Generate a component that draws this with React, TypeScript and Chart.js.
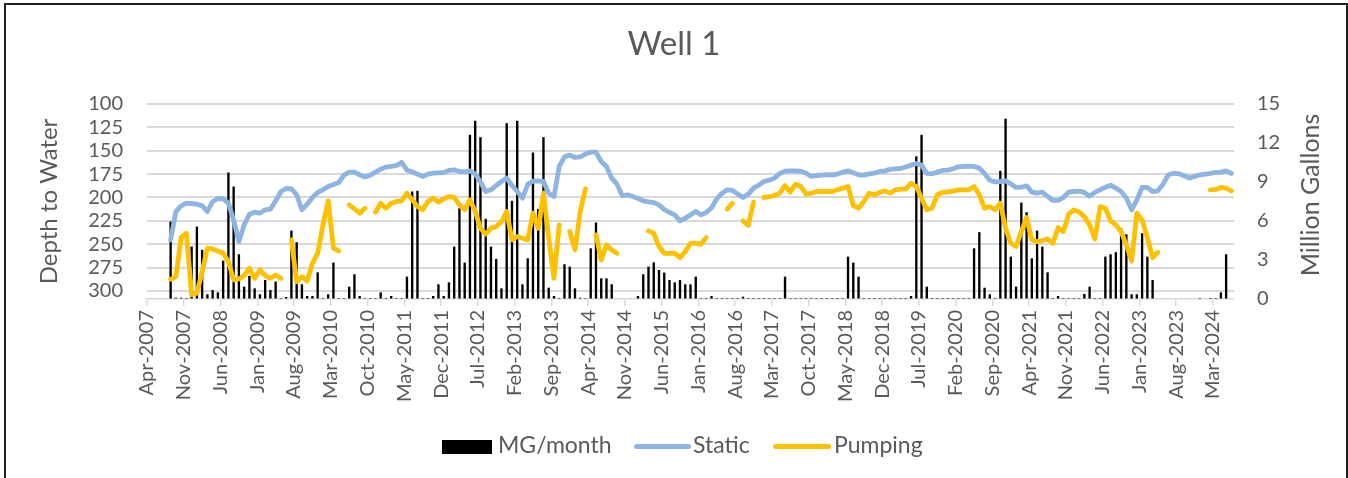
import React, { useEffect, useRef } from 'react';
import { Chart, registerables } from 'chart.js';

Chart.register(...registerables);

// ---- categories: one per month, Apr-2007 .. Jun-2024 ----
const START_YEAR = 2007;
const START_MONTH = 3; // April (0-based)
const MONTH_COUNT = 207;
const MONTH_NAMES = ['Jan', 'Feb', 'Mar', 'Apr', 'May', 'Jun', 'Jul', 'Aug', 'Sep', 'Oct', 'Nov', 'Dec'];
const months: string[] = Array.from({ length: MONTH_COUNT }, (_, i) => {
  const m = START_MONTH + i;
  return `${MONTH_NAMES[m % 12]}-${START_YEAR + Math.floor(m / 12)}`;
});
const LABEL_EVERY = 7; // an x label every 7 months

// ---- axis ticks ----
const depthTicks = [100, 125, 150, 175, 200, 225, 250, 275, 300];
const DEPTH_MIN = 100;
const DEPTH_MAX = 308.6;
const mgTicks = [0, 3, 6, 9, 12, 15];

// ---- series (index 0 = Apr-2007) ----
const staticDepth: (number | null)[] = [
  null, null, null, null, 245.4, 215, 209, 206.1, 206.5, 207.2, 209, 215,
  204.3, 201.1, 201.5, 206.1, 224, 247.2, 229.3, 217.9, 215.7, 216.8, 213.2, 212.5,
  203.6, 193.6, 190.4, 190.7, 197.1, 213.2, 207.2, 200, 194.6, 191.8, 188.2, 186.2,
  184, 176.1, 172.9, 172.9, 175.7, 178.2, 176.1, 172.9, 169.7, 167.5, 166.8, 165.8,
  162.5, 170.8, 172.5, 175, 177.5, 175, 174, 173.6, 173.3, 171.1, 170.4, 172.2,
  172.5, 171.5, 174.7, 183.6, 193.6, 191.8, 187.2, 182.9, 179.3, 187.2, 193.6, 200.7,
  186, 182.5, 182.2, 182.9, 195.4, 199, 166.8, 156.5, 154.7, 157.2, 156.5, 153.6,
  151.5, 151.5, 161.5, 166.8, 179.3, 185.7, 198.2, 197.2, 199, 201.1, 203.6, 204.7,
  205.4, 207.9, 212.9, 216.1, 218.6, 225, 222.2, 218.6, 215, 218.6, 216.1, 211,
  201.5, 195.4, 191.8, 192.5, 196.4, 200, 196.4, 190, 186.8, 182.9, 181.5, 179.3,
  174.3, 171.8, 171.5, 171.5, 171.8, 174, 177.5, 176.5, 176.1, 175.7, 175.7, 175,
  172.9, 171.5, 173.6, 175.7, 176.1, 174.7, 174, 172.2, 171.5, 170, 169.3, 169,
  167.4, 165.4, 163.6, 165.4, 174.3, 174.7, 172.9, 171.1, 170.8, 169.3, 167.2, 166.8,
  166.8, 166.8, 168.6, 174.3, 181.5, 183.3, 182.9, 182.2, 185.4, 189.3, 189, 187.5,
  194.3, 195.4, 194.3, 198.9, 203.2, 203.2, 200, 194.3, 193.6, 193.2, 194.6, 198.6,
  194.5, 191.8, 189, 186.8, 190, 193.6, 200.7, 213.2, 202.5, 189.3, 189.3, 193.6,
  192.9, 185.7, 175.7, 174, 174.7, 176.8, 179.3, 177.5, 175.7, 175, 174.3, 173.2,
  172.9, 171.5, 174.3,
];

const pumpingDepth: (number | null)[] = [
  null, null, null, null, 287.5, 284.7, 242.9, 238.2, 304, 302.5, 279.3, 254.3,
  255, 257.2, 259.7, 268.6, 288.2, 287.2, 283.6, 275.7, 286.5, 277.5, 283.6, 286.5,
  282.9, 286.5, null, 245.4, 290, 284.7, 289.3, 270.4, 259.7, 229.3, 203.6, 254.3,
  257.2, null, 207.9, 212.2, 216.8, 211.5, null, 215.7, 206.1, 211.5, 206.1, 204.3,
  203.6, 195.4, 202.5, 209.7, 213.2, 204.3, 200.7, 205, 201.5, 199, 200, 207.9,
  213.2, 202.5, 215, 232.9, 239.3, 232.9, 231.1, 225.7, 215, 245.4, 241.8, 243.6,
  245.4, 216.8, 232.9, 195.4, 243.6, 286.5, 229.3, null, 236.5, 256.1, 215, 190.7,
  null, 240, 266.8, 250.7, 256.1, 259.7, null, null, null, null, null, 235.7,
  238.2, 252.5, 259.7, 259.7, 259.7, 264.3, 257.9, 249, 249, 250, 242.9, null,
  null, null, 212.5, 206.1, null, 225, 230, 205, null, 200, 199, 197.9,
  195.4, 187.2, 194.3, 185.7, 188.2, 196.4, 195.4, 193.6, 193.6, 193.6, 193.6, 191.8,
  190, 188.2, 208.6, 211.5, 204.3, 195.4, 197.1, 194.6, 192.9, 195.4, 191.8, 191,
  191, 184.7, 188.2, 200.7, 213.2, 211.5, 197.1, 194.6, 193.9, 193.2, 191.8, 191.8,
  191.8, 188.2, 197.1, 211.5, 209.7, 213.2, 206.1, 232.9, 249, 252.5, 236.5, 221.5,
  245.4, 247.2, 246.1, 244.3, 249, 232.2, 236.5, 217.9, 213.2, 215.7, 220.4, 229.3,
  244.3, 209.7, 211.5, 225, 229.3, 236.5, 250.7, 267.9, 216.8, 224, 242.9, 264.3,
  258.6, null, null, null, null, null, null, null, null, null, 191.8, 191.4,
  189.3, 190, 192.9,
];

const mgPerMonth: (number | null)[] = [
  null, null, null, null, 5.96, 0.1, 0.1, 0, 4.03, 5.57, 3.78, 0.36,
  0.69, 0.51, 2.95, 9.73, 8.65, 3.44, 0.95, 1.77, 0.82, 0.36, 1.46, 0.69,
  1.34, 0, 0.15, 5.26, 4.37, 1.13, 0.23, 0.23, 2.05, 0, 0.36, 2.8,
  0, 0, 0.95, 1.9, 0.23, 0, 0, 0, 0.51, 0, 0.23, 0,
  0, 1.72, 8.27, 8.32, 0, 0, 0.23, 1.13, 0.23, 1.28, 4.03, 6.98,
  2.8, 12.63, 13.71, 12.45, 6.16, 4.03, 3.08, 0.82, 13.53, 7.55, 13.71, 1.13,
  3.13, 11.27, 6.93, 12.45, 0.87, 0.23, 0, 2.67, 2.49, 0.82, 0.1, 0,
  3.9, 5.88, 1.59, 1.59, 1.13, null, null, null, null, 0.23, 1.9, 2.49,
  2.82, 2.23, 2.03, 1.46, 1.28, 1.46, 1.13, 1.13, 1.72, 0, 0, 0.23,
  0, 0, 0, 0, 0, 0.18, 0, 0, 0, 0, 0, 0,
  0, 1.72, 0, 0, 0, 0, 0, 0, 0, 0, 0, 0,
  0, 3.26, 2.8, 1.72, 0, 0, 0, 0, 0, 0, 0, 0,
  0, 0.23, 10.97, 12.63, 0.95, 0, 0, 0, 0, 0, 0, 0,
  0, 3.9, 5.14, 0.87, 0.36, 0, 9.86, 13.87, 3.26, 0.95, 7.42, 6.68,
  3.13, 5.26, 4.03, 2.05, 0, 0.23, 0, 0, 0, 0, 0.39, 0.95,
  0, 0, 3.26, 3.44, 3.6, 5.44, 4.98, 0.36, 0.36, 5.06, 3.26, 1.46,
  null, null, null, null, null, null, null, null, 0, null, 0, 0,
  0.51, 3.44, null,
];

const TEXT = '#595959';
const GRID = '#d9d9d9';
const FONT = 'Lato';
const STATIC_COLOR = '#8DB4E2';
const PUMPING_COLOR = '#FFC000';

export default function App() {
  const ref = useRef<HTMLCanvasElement>(null);

  useEffect(() => {
    const canvas = ref.current;
    if (!canvas) return;
    const chart = new Chart(canvas, {
      type: 'bar',
      data: {
        labels: months,
        datasets: [
          {
            type: 'line',
            label: 'Pumping',
            data: pumpingDepth,
            yAxisID: 'y',
            borderColor: PUMPING_COLOR,
            backgroundColor: PUMPING_COLOR,
            borderWidth: 4.8,
            pointRadius: 0,
            tension: 0,
            spanGaps: false,
            borderJoinStyle: 'round',
            borderCapStyle: 'round',
            order: 0,
          },
          {
            type: 'line',
            label: 'Static',
            data: staticDepth,
            yAxisID: 'y',
            borderColor: STATIC_COLOR,
            backgroundColor: STATIC_COLOR,
            borderWidth: 4.8,
            pointRadius: 0,
            tension: 0,
            spanGaps: false,
            borderJoinStyle: 'round',
            borderCapStyle: 'round',
            order: 1,
          },
          {
            type: 'bar',
            label: 'MG/month',
            data: mgPerMonth,
            yAxisID: 'y1',
            backgroundColor: '#000000',
            barPercentage: 0.45,
            categoryPercentage: 1,
            minBarLength: 1,
            order: 2,
          },
        ],
      } as any,
      options: {
        responsive: false,
        animation: false,
        events: [],
        layout: { padding: 0 },
        plugins: {
          legend: { display: false },
          tooltip: { enabled: false },
          title: {
            display: true,
            text: 'Well 1',
            color: TEXT,
            font: { family: FONT, size: 33, weight: 'normal' },
            padding: { top: 25, bottom: 39.4 },
          },
        },
        scales: {
          x: {
            type: 'category',
            offset: true,
            grid: {
              offset: true,
              drawOnChartArea: false,
              drawTicks: true,
              tickLength: 7,
              lineWidth: 1.5,
              color: (ctx: any) => (ctx.index % LABEL_EVERY === 0 ? GRID : 'rgba(0,0,0,0)'),
            },
            border: { display: true, color: GRID, width: 1.5 },
            ticks: {
              autoSkip: false,
              minRotation: 90,
              maxRotation: 90,
              padding: 4,
              labelOffset: -2.63,
              color: TEXT,
              font: { family: FONT, size: 20 },
              callback: (_v: any, i: number) => (i % LABEL_EVERY === 0 ? months[i] : ''),
            },
            afterFit: (s: any) => {
              s.height = 179;
            },
          },
          y: {
            type: 'linear',
            position: 'left',
            reverse: true,
            min: DEPTH_MIN,
            max: DEPTH_MAX,
            afterBuildTicks: (s: any) => {
              s.ticks = depthTicks.map((v) => ({ value: v }));
            },
            grid: { color: GRID, lineWidth: 2, drawTicks: false },
            border: { display: false },
            ticks: { autoSkip: false, padding: 24, color: TEXT, font: { family: FONT, size: 20 } },
            title: {
              display: true,
              text: 'Depth to Water',
              color: TEXT,
              font: { family: FONT, size: 24 },
              padding: { top: 35, bottom: 0 },
            },
            afterFit: (s: any) => {
              s.width = 147;
            },
          },
          y1: {
            type: 'linear',
            position: 'right',
            min: 0,
            max: 15,
            afterBuildTicks: (s: any) => {
              s.ticks = mgTicks.map((v) => ({ value: v }));
            },
            grid: { drawOnChartArea: false, drawTicks: false },
            border: { display: false },
            ticks: { autoSkip: false, padding: 23, color: TEXT, font: { family: FONT, size: 20 } },
            afterFit: (s: any) => {
              s.width = 114;
            },
          },
        },
      } as any,
    });
    return () => chart.destroy();
  }, []);

  const legendText: React.CSSProperties = {
    position: 'absolute',
    top: 433,
    fontFamily: FONT,
    fontSize: 23,
    lineHeight: '23px',
    color: TEXT,
    whiteSpace: 'nowrap',
  };

  return (
    <div
      style={{
        position: 'fixed',
        left: 0,
        top: 0,
        width: 1348,
        height: 478,
        overflow: 'hidden',
        background: '#ffffff',
      }}
    >
      <canvas ref={ref} width={1348} height={478} style={{ position: 'absolute', left: 0, top: 0 }} />
      <div
        style={{
          position: 'absolute',
          left: 4,
          top: 3,
          width: 1344,
          height: 500,
          border: '2px solid #1e1e1e',
          boxSizing: 'border-box',
          pointerEvents: 'none',
        }}
      />
      <div
        style={{
          position: 'absolute',
          left: 1309,
          top: 195,
          transform: 'translate(-50%, -50%) rotate(-90deg)',
          fontFamily: FONT,
          fontSize: 25,
          lineHeight: '25px',
          color: TEXT,
          whiteSpace: 'nowrap',
        }}
      >
        Million Gallons
      </div>
      <div style={{ position: 'absolute', left: 442, top: 440, width: 50, height: 14, background: '#000' }} />
      <div style={{ ...legendText, left: 498 }}>MG/month</div>
      <div
        style={{ position: 'absolute', left: 634, top: 444, width: 57, height: 5, borderRadius: 2.5, background: STATIC_COLOR }}
      />
      <div style={{ ...legendText, left: 693 }}>Static</div>
      <div
        style={{ position: 'absolute', left: 773, top: 444, width: 58, height: 5, borderRadius: 2.5, background: PUMPING_COLOR }}
      />
      <div style={{ ...legendText, left: 834 }}>Pumping</div>
    </div>
  );
}
